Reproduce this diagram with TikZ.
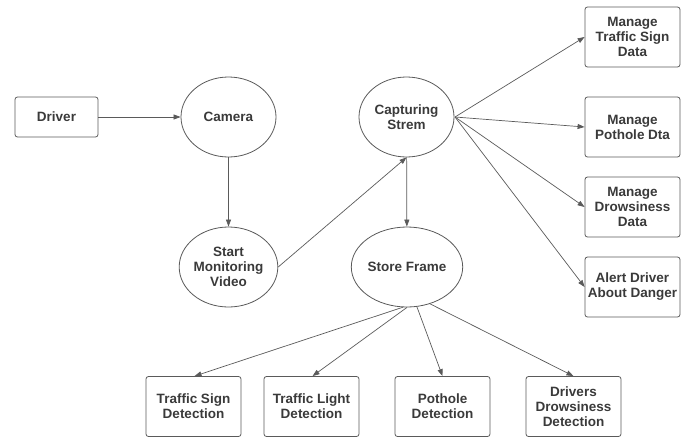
\documentclass[tikz,border=0pt]{standalone}
\usepackage{fontspec}
\setmainfont{Liberation Sans}
\usetikzlibrary{shapes.geometric,arrows.meta}
\definecolor{linec}{HTML}{5A5A5A}
\definecolor{textc}{HTML}{3A3A3A}
\tikzset{
  base/.style={draw=linec, line width=0.8pt, text=textc, align=center,
    font=\fontsize{13.5}{15}\selectfont\bfseries, inner sep=0pt},
  boxn/.style={base, rectangle, rounded corners=2.5pt, minimum width=95, minimum height=60},
  drvbox/.style={base, rectangle, rounded corners=2.5pt, minimum width=83, minimum height=40},
  proc/.style={base, ellipse, minimum width=95, minimum height=80},
  arr/.style={draw=linec, line width=0.7pt, -{Triangle[length=7pt,width=5pt]}}
}
\begin{document}
\begin{tikzpicture}[x=1pt,y=-1pt]
\useasboundingbox (0,0) rectangle (686,437);
\node[drvbox] (driver) at (56.5,117) {Driver};
\node[proc] (camera) at (228.5,117) {Camera};
\node[proc] (start) at (228.5,267) {Start\\Monitoring\\Video};
\node[proc] (capture) at (406.5,117) {Capturing\\Strem};
\node[proc] (store) at (407,267) {Store Frame};
\node[boxn] (mts) at (632.5,37) {Manage\\Traffic Sign\\Data};
\node[boxn] (mpd) at (632.5,127) {Manage\\Pothole Dta};
\node[boxn] (mdd) at (632.5,207) {Manage\\Drowsiness\\Data};
\node[boxn] (alert) at (632.5,287) {Alert Driver\\About Danger};
\node[boxn] (tsd) at (193.5,406.5) {Traffic Sign\\Detection};
\node[boxn] (tld) at (311.5,406.5) {Traffic Light\\Detection};
\node[boxn] (phd) at (442.5,406.5) {Pothole\\Detection};
\node[boxn] (ddd) at (573.5,406.5) {Drivers\\Drowsiness\\Detection};
\coordinate (capR) at (455,117);
\draw[arr] (driver) -- (camera);
\draw[arr] (camera) -- (start);
\draw[arr] (start.east) -- (capture.south);
\draw[arr] (capture) -- (store);
\draw[arr] (capR) -- (mts.west);
\draw[arr] (capR) -- (mpd.west);
\draw[arr] (capR) -- (mdd.west);
\draw[arr] (capR) -- (alert.west);
\draw[arr] (store.-96) -- ([xshift=1]tsd.north);
\draw[arr] (store.-90) -- ([xshift=1]tld.north);
\draw[arr] (store.-76) -- (phd.north);
\draw[arr] (store.-58) -- (ddd.north);
\end{tikzpicture}
\end{document}
